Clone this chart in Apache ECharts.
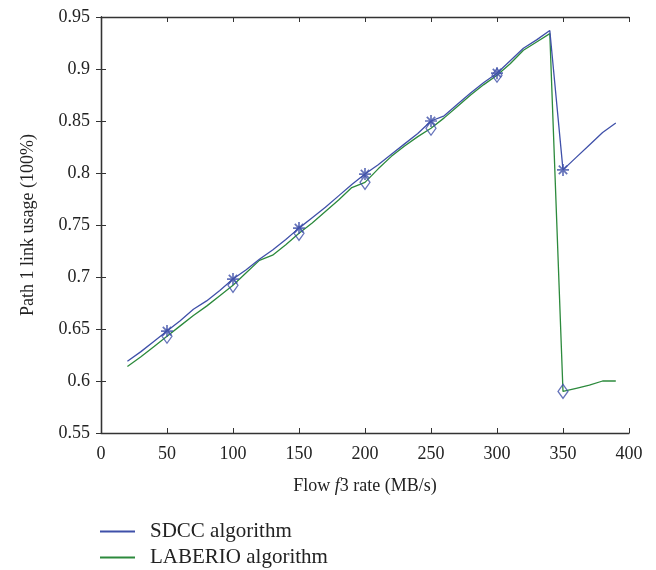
<!DOCTYPE html>
<html>
<head>
<meta charset="utf-8">
<script src="https://cdn.jsdelivr.net/npm/echarts@6/dist/echarts.min.js"></script>
<style>
  html, body { margin: 0; padding: 0; background: #fff; }
  #chart { width: 656px; height: 570px; }
</style>
</head>
<body>
<div id="chart"></div>
<script>
// Flow f3 rate (MB/s)
const flowRates = [20, 30, 40, 50, 60, 70, 80, 90, 100, 110, 120, 130, 140, 150, 160, 170, 180, 190, 200,
  210, 220, 230, 240, 250, 260, 270, 280, 290, 300, 310, 320, 330, 340, 350, 360, 370, 380, 390];

// Path 1 link usage, SDCC algorithm
const sdccUsage = [0.619, 0.628, 0.638, 0.648, 0.658, 0.669, 0.677, 0.687, 0.698, 0.707, 0.717, 0.726,
  0.736, 0.747, 0.757, 0.767, 0.778, 0.789, 0.799, 0.808, 0.818, 0.828, 0.838, 0.850, 0.855, 0.866,
  0.877, 0.887, 0.896, 0.908, 0.920, 0.928, 0.937, 0.803, 0.815, 0.827, 0.839, 0.848];

// Path 1 link usage, LABERIO algorithm
const laberioUsage = [0.614, 0.623, 0.633, 0.643, 0.653, 0.663, 0.672, 0.682, 0.692, 0.704, 0.716, 0.721,
  0.731, 0.742, 0.752, 0.763, 0.774, 0.786, 0.791, 0.804, 0.816, 0.826, 0.835, 0.843, 0.853, 0.864,
  0.875, 0.885, 0.894, 0.905, 0.918, 0.926, 0.934, 0.590, 0.593, 0.596, 0.600, 0.600];

// Rates that carry a marker
const markedRates = [50, 100, 150, 200, 250, 300, 350];

const seriesNames = ['SDCC algorithm', 'LABERIO algorithm'];

const BLUE = '#3f50a9';
const GREEN = '#2c8a3c';
const AXIS = '#333';
const FONT = "'Liberation Serif', 'DejaVu Serif', serif";

const pairs = (ys) => flowRates.map((x, i) => [x, ys[i]]);
const marks = (ys) => markedRates.map((x) => [x, ys[flowRates.indexOf(x)]]);

const asterisk = 'path://M5,0L5,10M0,5L10,5M1.5,1.5L8.5,8.5M8.5,1.5L1.5,8.5';

const chart = echarts.init(document.getElementById('chart'), null, { renderer: 'canvas' });

const tickCommon = { inside: true, length: 5, lineStyle: { color: AXIS, width: 1 } };
const lineCommon = { show: true, lineStyle: { color: AXIS, width: 1.3 } };

chart.setOption({
  animation: false,
  backgroundColor: '#fff',
  textStyle: { fontFamily: FONT },
  grid: { left: 101, right: 27, top: 17, bottom: 137 },
  legend: {
    orient: 'vertical',
    left: 100,
    top: 521,
    padding: 0,
    itemWidth: 35,
    itemHeight: 2,
    itemGap: 5,
    icon: 'rect',
    data: seriesNames,
    textStyle: { fontFamily: FONT, fontSize: 21, color: '#222', padding: [0, 0, 0, 10] }
  },
  xAxis: [
    {
      type: 'value', position: 'bottom', min: 0, max: 400, interval: 50,
      axisLine: lineCommon, axisTick: tickCommon, splitLine: { show: false },
      axisLabel: { color: '#222', fontSize: 18, margin: 12, fontFamily: FONT },
      name: '{n|Flow }{i|f}{n|3 rate (MB/s)}',
      nameLocation: 'middle', nameGap: 44,
      nameTextStyle: {
        rich: {
          n: { fontSize: 18, color: '#222', fontFamily: FONT },
          i: { fontSize: 18, color: '#222', fontFamily: FONT, fontStyle: 'italic' }
        }
      }
    },
    {
      type: 'value', position: 'top', min: 0, max: 400, interval: 50,
      axisLine: lineCommon, axisTick: tickCommon, axisLabel: { show: false }, splitLine: { show: false }
    }
  ],
  yAxis: [
    {
      type: 'value', position: 'left', min: 0.55, max: 0.95, interval: 0.05,
      axisLine: lineCommon, axisTick: tickCommon, splitLine: { show: false },
      axisLabel: {
        color: '#222', fontSize: 18, margin: 11, fontFamily: FONT,
        formatter: (v) => String(+v.toFixed(2))
      },
      name: 'Path 1 link usage (100%)',
      nameLocation: 'middle', nameGap: 64, nameRotate: 90,
      nameTextStyle: { fontSize: 18, color: '#222', fontFamily: FONT }
    },
    {
      type: 'value', position: 'right', min: 0.55, max: 0.95, interval: 0.05,
      axisLine: lineCommon, axisTick: tickCommon, axisLabel: { show: false }, splitLine: { show: false }
    }
  ],
  series: [
    {
      name: seriesNames[0], type: 'line', data: pairs(sdccUsage),
      showSymbol: false, symbol: 'none', color: BLUE,
      lineStyle: { color: BLUE, width: 1.3 }, z: 3
    },
    {
      name: seriesNames[1], type: 'line', data: pairs(laberioUsage),
      showSymbol: false, symbol: 'none', color: GREEN,
      lineStyle: { color: GREEN, width: 1.3 }, z: 2
    },
    {
      name: 'sdcc-marks', type: 'scatter', data: marks(sdccUsage),
      symbol: asterisk, symbolSize: 12,
      itemStyle: { color: 'rgba(0,0,0,0)', borderColor: BLUE, borderWidth: 1.7 }, z: 5
    },
    {
      name: 'laberio-marks', type: 'scatter', data: marks(laberioUsage),
      symbol: 'diamond', symbolSize: [10, 14],
      itemStyle: { color: 'rgba(0,0,0,0)', borderColor: BLUE, borderWidth: 1.3 }, z: 4
    }
  ]
});
</script>
</body>
</html>
